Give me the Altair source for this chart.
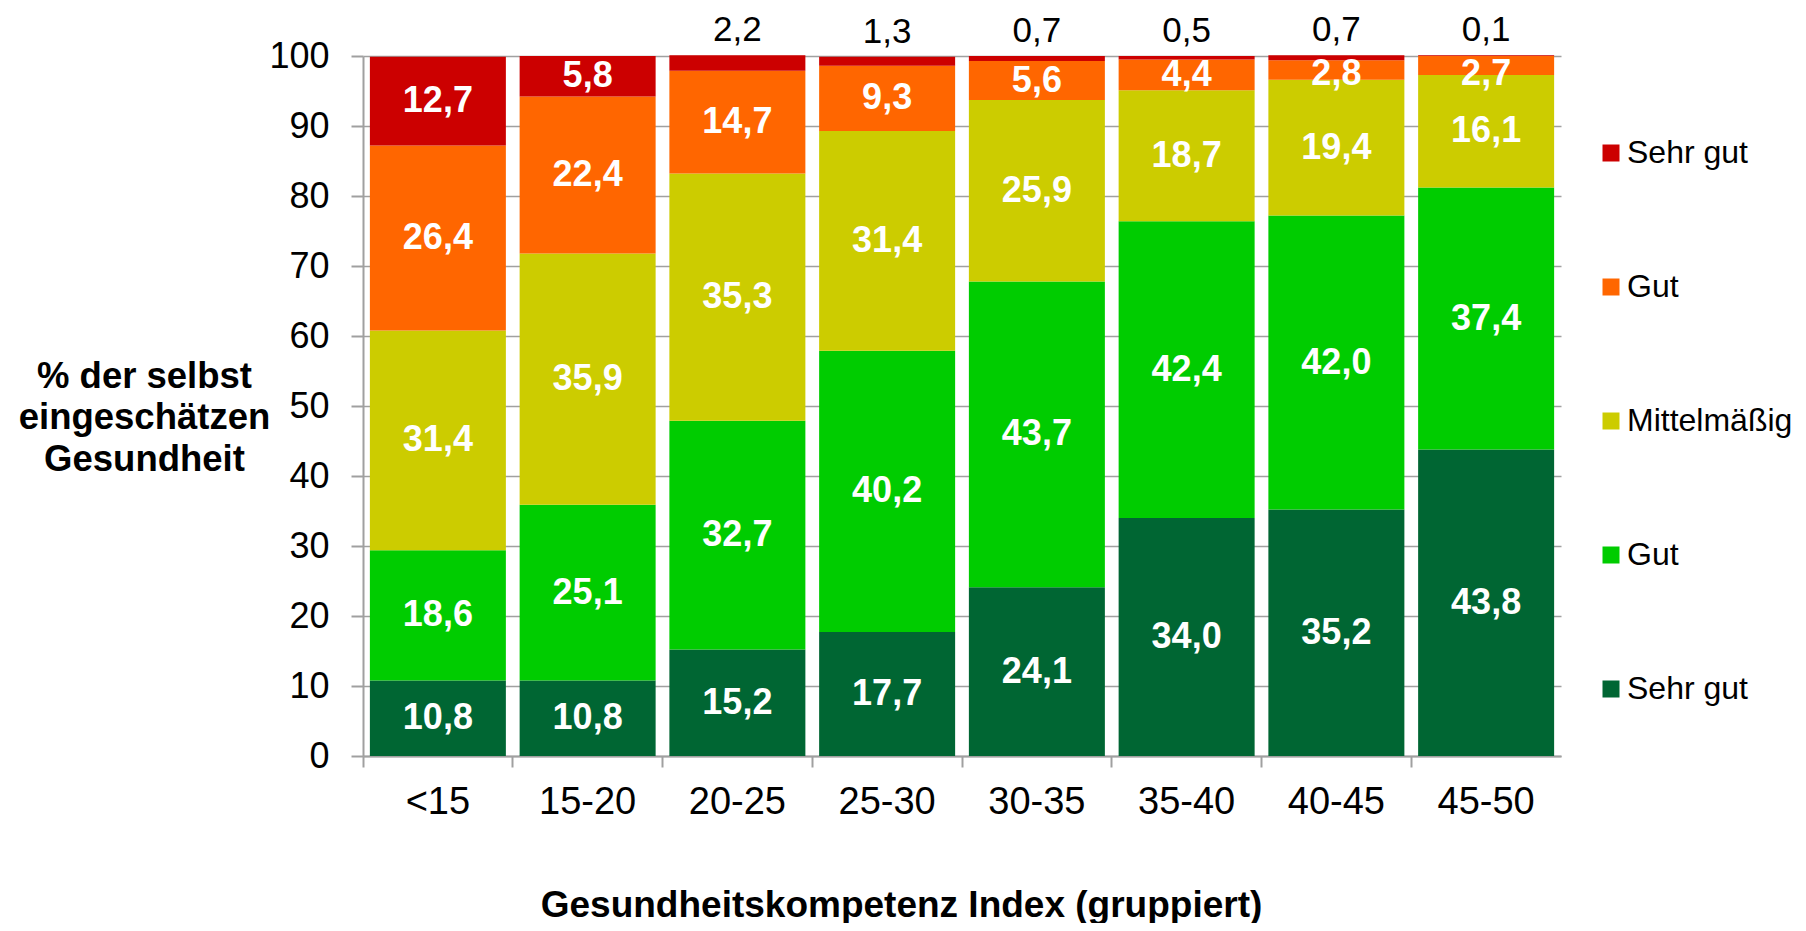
import altair as alt
import pandas as pd

# ---- data ----
categories = ["<15", "15-20", "20-25", "25-30", "30-35", "35-40", "40-45", "45-50"]
sehr_gut_dunkelgruen = [10.8, 10.8, 15.2, 17.7, 24.1, 34.0, 35.2, 43.8]
gut_gruen = [18.6, 25.1, 32.7, 40.2, 43.7, 42.4, 42.0, 37.4]
mittelmaessig = [31.4, 35.9, 35.3, 31.4, 25.9, 18.7, 19.4, 16.1]
gut_orange = [26.4, 22.4, 14.7, 9.3, 5.6, 4.4, 2.8, 2.7]
sehr_gut_rot = [12.7, 5.8, 2.2, 1.3, 0.7, 0.5, 0.7, 0.1]

# legend order (top to bottom)
series_keys = ["Sehr gut|rot", "Gut|orange", "Mittelmäßig|gelb", "Gut|grün", "Sehr gut|dunkelgrün"]
series_colors = ["#CC0000", "#FF6600", "#CCCC00", "#00CC00", "#006633"]

# stacking order (bottom to top)
stack_values = [sehr_gut_dunkelgruen, gut_gruen, mittelmaessig, gut_orange, sehr_gut_rot]
stack_keys = list(reversed(series_keys))

rows = []
for i, cat in enumerate(categories):
    base = 0.0
    for j, (key, vals) in enumerate(zip(stack_keys, stack_values)):
        v = vals[i]
        rows.append({
            "cat": cat,
            "key": key,
            "start": base,
            "end": base + v,
            "mid": base + v / 2,
            "label": f"{v:.1f}".replace(".", ","),
            "outside": (j == len(stack_keys) - 1) and v < 5,
        })
        base += v
df = pd.DataFrame(rows)

FONT = "Liberation Sans"
GRAY = "#A0A0A0"

x_enc = alt.X(
    "cat:N",
    sort=categories,
    scale=alt.Scale(paddingInner=0.093, paddingOuter=0.0465),
    axis=alt.Axis(
        title="Gesundheitskompetenz Index (gruppiert)",
        labelAngle=0,
        labelFont=FONT,
        labelFontSize=38,
        labelColor="#000000",
        labelPadding=16,
        tickSize=11,
        tickColor=GRAY,
        tickWidth=2,
        domainColor=GRAY,
        domainWidth=2,
        bandPosition=-0.05,
        titleFont=FONT,
        titleFontSize=37,
        titleFontWeight="bold",
        titleColor="#000000",
        titleX=538,
        titleY=160,
        titleAlign="center",
        titleBaseline="alphabetic",
    ),
)

y_scale = alt.Scale(domain=[0, 100], nice=False)

bars = alt.Chart(df).mark_bar(size=136).encode(
    x=x_enc,
    y=alt.Y(
        "start:Q",
        scale=y_scale,
        axis=alt.Axis(
            values=list(range(0, 101, 10)),
            title=["% der selbst", "eingeschätzen", "Gesundheit"],
            titleAngle=0,
            titleAlign="center",
            titleBaseline="middle",
            titleX=-219,
            titleY=320,
            titleFont=FONT,
            titleFontSize=36.5,
            titleFontWeight="bold",
            titleLineHeight=41.5,
            titleColor="#000000",
            labelFont=FONT,
            labelFontSize=36,
            labelColor="#000000",
            labelPadding=22,
            tickSize=12,
            tickColor=GRAY,
            tickWidth=2,
            domainColor=GRAY,
            domainWidth=2,
            grid=True,
            gridColor=GRAY,
            gridWidth=1.5,
        ),
    ),
    y2="end:Q",
    color=alt.Color(
        "key:N",
        scale=alt.Scale(domain=series_keys, range=series_colors),
        legend=alt.Legend(
            title=None,
            orient="none",
            legendX=1232,
            legendY=81,
            symbolType="square",
            symbolSize=289,
            symbolStrokeWidth=0,
            symbolOpacity=1,
            labelFont=FONT,
            labelFontSize=32,
            labelColor="#000000",
            labelOffset=0,
            labelLimit=0,
            rowPadding=102,
            padding=0,
            labelExpr="split(datum.label, '|')[0]",
        ),
    ),
)

text_in = alt.Chart(df).transform_filter("!datum.outside").transform_calculate(
    ypos="min(datum.mid, 97.4)"
).mark_text(
    font=FONT, fontSize=36, fontWeight="bold", color="#FFFFFF", baseline="middle"
).encode(
    x=alt.X("cat:N", sort=categories),
    y=alt.Y("ypos:Q", scale=y_scale),
    text="label:N",
)

text_out = alt.Chart(df).transform_filter("datum.outside").mark_text(
    font=FONT, fontSize=35, color="#000000", baseline="middle", dy=-25
).encode(
    x=alt.X("cat:N", sort=categories),
    y=alt.Y("end:Q", scale=y_scale),
    text="label:N",
)

chart = alt.layer(bars, text_in, text_out).properties(
    width=1198,
    height=700,
    autosize=alt.AutoSizeParams(type="none"),
    padding={"left": 355, "top": 48, "right": 235, "bottom": 167},
    background="#FFFFFF",
).configure_view(stroke=None)

chart.save("out.html", embed_options={"renderer": "svg", "actions": False})
